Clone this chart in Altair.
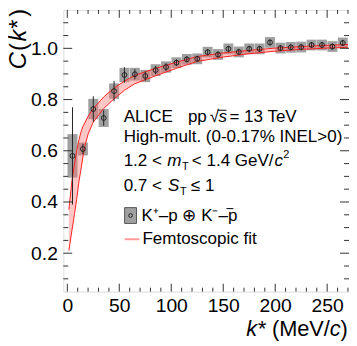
import altair as alt
import pandas as pd

# ---------------- data ----------------
k_star = [5, 15, 25, 35, 45, 55, 65, 75, 85, 95,
          105, 115, 125, 135, 145, 155, 165, 175, 185, 195,
          205, 215, 225, 235, 245, 255, 265]
corr = [0.580, 0.607, 0.763, 0.728, 0.833, 0.896, 0.899, 0.892, 0.915, 0.927,
        0.944, 0.957, 0.959, 0.985, 0.976, 0.998, 0.986, 0.998, 0.998, 1.023,
        1.001, 1.004, 1.005, 1.013, 1.013, 1.007, 1.021]
stat_err = [0.190, 0.020, 0.050, 0.030, 0.040, 0.030, 0.020, 0.018, 0.016, 0.015,
            0.013, 0.012, 0.012, 0.012, 0.012, 0.012, 0.012, 0.012, 0.012, 0.012,
            0.012, 0.012, 0.012, 0.012, 0.012, 0.012, 0.012]
syst_err = [0.085, 0.025, 0.040, 0.035, 0.030, 0.028, 0.025, 0.024, 0.023, 0.022,
            0.021, 0.021, 0.021, 0.021, 0.021, 0.021, 0.021, 0.021, 0.021, 0.021,
            0.021, 0.021, 0.021, 0.021, 0.021, 0.021, 0.021]
bin_half = 4.8

fit_k = [1.5, 4.5, 7, 9, 11.4, 13, 15, 17, 20, 25, 35, 45, 55, 65, 85, 105,
         125, 150, 175, 200, 225, 250, 270]
fit_lo = [0.21, 0.29, 0.355, 0.41, 0.485, 0.523, 0.575, 0.62, 0.665, 0.712, 0.765,
          0.803, 0.836, 0.862, 0.893, 0.922, 0.949, 0.966, 0.979, 0.989, 0.996,
          1.001, 1.004]
fit_hi = [0.37, 0.485, 0.55, 0.60, 0.645, 0.672, 0.695, 0.71, 0.735, 0.765, 0.81,
          0.845, 0.872, 0.895, 0.922, 0.946, 0.968, 0.982, 0.992, 1.001, 1.007,
          1.012, 1.015]

x_major = [0, 50, 100, 150, 200, 250]
x_minor = [v for v in range(10, 271, 10) if v % 50 != 0]
y_major = [0.2, 0.4, 0.6, 0.8, 1.0]
y_minor = [round(0.05 * i, 2) for i in range(2, 23) if i % 4 != 0]

# ---------------- layout ----------------
W, H = 289, 285
X0, Y0 = 64, 8          # page position of the plot origin
FONT = "Liberation Sans"
LF = 17.2               # legend font size
xs = alt.Scale(domain=[-3.8, 271], nice=False, zero=False)
ys = alt.Scale(domain=[0.05, 1.15], nice=False, zero=False)

pts = pd.DataFrame({"k": k_star, "C": corr, "stat": stat_err, "syst": syst_err})
pts["k_lo"] = pts["k"] - bin_half
pts["k_hi"] = pts["k"] + bin_half
pts["s_lo"] = pts["C"] - pts["syst"]
pts["s_hi"] = pts["C"] + pts["syst"]
pts["e_lo"] = pts["C"] - pts["stat"]
pts["e_hi"] = pts["C"] + pts["stat"]
fit = pd.DataFrame({"k": fit_k, "lo": fit_lo, "hi": fit_hi})

xaxis = alt.Axis(values=x_major, title=None, grid=False, domain=False, ticks=False,
                 tickSize=0, labelFont=FONT, labelFontSize=19.5, labelColor="black",
                 labelPadding=5, labelFlush=False)
yaxis = alt.Axis(values=y_major, title=None, grid=False, domain=False, ticks=False,
                 tickSize=0, format=".1f", labelFont=FONT, labelFontSize=19.5,
                 labelColor="black", labelPadding=6)


def X(f):
    return alt.X(f, scale=xs, axis=xaxis)


def Y(f):
    return alt.Y(f, scale=ys, axis=yaxis)


boxes = alt.Chart(pts).mark_rect(color="#a0a0a0").encode(
    x=X("k_lo:Q"), x2="k_hi:Q", y=Y("s_lo:Q"), y2="s_hi:Q")

band = alt.Chart(fit).mark_area(color="#ff7070", opacity=0.4).encode(
    x=X("k:Q"), y=Y("lo:Q"), y2="hi:Q")
edge_lo = alt.Chart(fit).mark_line(color="#ff2020", strokeWidth=1).encode(
    x=X("k:Q"), y=Y("lo:Q"))
edge_hi = alt.Chart(fit).mark_line(color="#ff2020", strokeWidth=1).encode(
    x=X("k:Q"), y=Y("hi:Q"))

ebars = alt.Chart(pts).mark_rule(color="#222222", strokeWidth=1).encode(
    x=X("k:Q"), y=Y("e_lo:Q"), y2="e_hi:Q")
markers = alt.Chart(pts).mark_point(shape="circle", filled=False, size=24,
                                    color="#222222", strokeWidth=1, opacity=1).encode(
    x=X("k:Q"), y=Y("C:Q"))


def xticks(vals, length):
    df = pd.DataFrame({"v": vals})
    b = alt.Chart(df).mark_rule(color="#333333", strokeWidth=1).encode(
        x=X("v:Q"), y=alt.value(H), y2=alt.value(H - length))
    t = alt.Chart(df).mark_rule(color="#333333", strokeWidth=1).encode(
        x=X("v:Q"), y=alt.value(0), y2=alt.value(length))
    return [b, t]


def yticks(vals, length):
    df = pd.DataFrame({"v": vals})
    l = alt.Chart(df).mark_rule(color="#333333", strokeWidth=1).encode(
        y=Y("v:Q"), x=alt.value(0), x2=alt.value(length))
    r = alt.Chart(df).mark_rule(color="#333333", strokeWidth=1).encode(
        y=Y("v:Q"), x=alt.value(W), x2=alt.value(W - length))
    return [l, r]


ticks = xticks(x_major, 8) + xticks(x_minor, 4) + yticks(y_major, 9) + yticks(y_minor, 5)


def txt(s, px, py, size=LF, style="normal", align="left", baseline="alphabetic",
        angle=0, color="black"):
    return alt.Chart(pd.DataFrame({"t": [s]})).mark_text(
        font=FONT, fontSize=size, fontStyle=style, align=align, baseline=baseline,
        angle=angle, color=color).encode(
        text="t:N", x=alt.value(px - X0), y=alt.value(py - Y0))


labels = [
    txt("ALICE", 125, 121), txt("pp", 190, 121), txt("√", 212, 121),
    txt("s", 221, 121, style="italic"), txt("= 13 TeV", 232, 121),
    txt("High-mult. (0-0.17% INEL>0)", 125, 141.5),
    txt("1.2 <", 125, 165.5), txt("m", 169, 165.5, style="italic"),
    txt("T", 184, 169.5, size=11), txt("< 1.4 GeV/", 194, 165.5),
    txt("c", 277.5, 165.5, style="italic"), txt("2", 286.5, 158, size=11),
    txt("0.7 <", 125, 191.5), txt("S", 170, 191.5, style="italic"),
    txt("T", 182, 195.5, size=11), txt("≤ 1", 193, 191.5),
    txt("K⁺–p ⊕ K⁻–p", 143, 222), txt("Femtoscopic fit", 144, 245),
    # axis titles
    txt("k*", 249, 338, size=22, style="italic"), txt("(MeV/", 275, 338, size=22),
    txt("c", 333.5, 338, size=22, style="italic"), txt(")", 344.5, 338, size=22),
    txt("C", 26.5, 68, size=24, style="italic", angle=270),
    txt("(", 26.5, 49.5, size=24, angle=270),
    txt("k", 26.5, 40, size=24, style="italic", angle=270),
    txt("*", 26.5, 27, size=24, angle=270),
    txt(")", 26.5, 15, size=24, angle=270),
]

one = pd.DataFrame({"a": [0]})
sqrt_bar = alt.Chart(one).mark_rule(color="black", strokeWidth=1).encode(
    x=alt.value(220 - X0), x2=alt.value(229 - X0), y=alt.value(109.5 - Y0))
pbar = alt.Chart(one).mark_rule(color="black", strokeWidth=1).encode(
    x=alt.value(229 - X0), x2=alt.value(236 - X0), y=alt.value(209 - Y0))
leg_box = alt.Chart(one).mark_rect(
    color="#a0a0a0", stroke="#555555", strokeWidth=1).encode(
    x=alt.value(126 - X0), x2=alt.value(138 - X0), y=alt.value(208 - Y0), y2=alt.value(224 - Y0))
leg_pt = alt.Chart(one).mark_point(
    shape="circle", filled=False, size=14, color="#222222", strokeWidth=1, opacity=1).encode(
    x=alt.value(132 - X0), y=alt.value(216 - Y0))
leg_line = alt.Chart(one).mark_rule(color="#ff9a9a", strokeWidth=2).encode(
    x=alt.value(126 - X0), x2=alt.value(141 - X0), y=alt.value(240 - Y0))

chart = alt.layer(
    boxes, band, edge_lo, edge_hi, ebars, markers, *ticks,
    sqrt_bar, pbar, leg_box, leg_pt, leg_line, *labels
).properties(
    width=W, height=H,
    autosize=alt.AutoSizeParams(type="none"),
    padding={"left": X0 - 8, "top": Y0 - 8, "right": 0, "bottom": 48},
).configure_view(stroke="#222222", strokeWidth=1).configure(background="white")

chart.save("out.html", embed_options={"renderer": "svg", "actions": False})
